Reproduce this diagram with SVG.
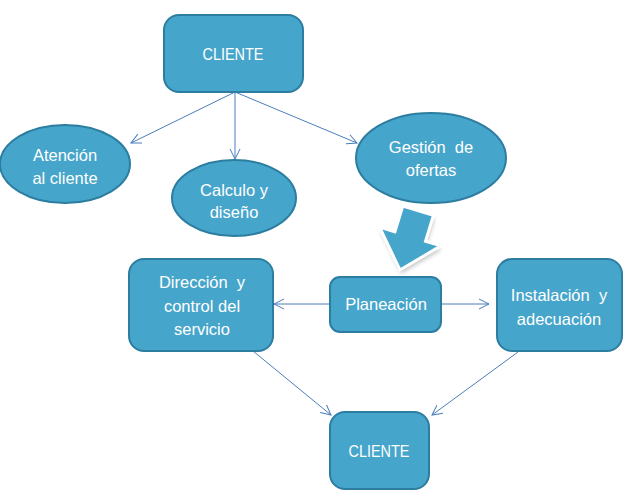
<svg xmlns="http://www.w3.org/2000/svg" width="626" height="496" viewBox="0 0 626 496">
<style>
.n{fill:#46A5CB;stroke:#2C7DA0;stroke-width:2}
.t{font-family:"Liberation Sans",Arial,sans-serif;font-size:16.5px;fill:#FFFFFF;text-anchor:middle;white-space:pre}
.k{font-size:17px}
.c{stroke:#4A7EBB;stroke-width:1;fill:none;marker-end:url(#ah)}
</style>
<defs>
<marker id="ah" markerWidth="12" markerHeight="12" refX="10" refY="5" orient="auto" markerUnits="userSpaceOnUse" viewBox="0 0 12 10">
<polyline points="0,0 10,5 0,10" fill="none" stroke="#4A7EBB" stroke-width="1"/>
</marker>
<filter id="sh" x="-30%" y="-30%" width="160%" height="160%">
<feGaussianBlur stdDeviation="2"/>
</filter>
</defs>
<rect width="626" height="496" fill="#FFFFFF"/>
<g id="connectors">
<line class="c" x1="235" y1="92" x2="131" y2="143"/>
<line class="c" x1="235" y1="92" x2="235" y2="159"/>
<line class="c" x1="235" y1="92" x2="357" y2="143"/>
<line class="c" x1="330" y1="304" x2="274" y2="304"/>
<line class="c" x1="441" y1="304" x2="489" y2="304"/>
<line class="c" x1="253" y1="351" x2="331" y2="415"/>
<line class="c" x1="518" y1="352" x2="432" y2="415"/>
</g>
<g id="cliente-top">
<rect class="n" x="164" y="15" width="139" height="77" rx="15"/>
<text class="t k" x="233" y="60" textLength="61" lengthAdjust="spacingAndGlyphs">CLIENTE</text>
</g>
<g id="atencion">
<ellipse class="n" cx="65" cy="164" rx="65" ry="39"/>
<text class="t" x="65" y="161">Atención</text>
<text class="t" x="65" y="184">al cliente</text>
</g>
<g id="calculo">
<ellipse class="n" cx="234" cy="198" rx="62" ry="38"/>
<text class="t" x="234" y="196">Calculo y</text>
<text class="t" x="234" y="218">diseño</text>
</g>
<g id="gestion">
<ellipse class="n" cx="431" cy="158" rx="75" ry="45"/>
<text class="t" x="431" y="153">Gestión  de</text>
<text class="t" x="431" y="176">ofertas</text>
</g>
<g id="big-arrow" transform="translate(418.1,210.7) rotate(17)">
<polygon points="-16,0 16,0 16,27 32,27 0,62 -32,27 -16,27" fill="#888888" opacity="0.5" transform="translate(2,3)" filter="url(#sh)"/>
<polygon points="-16,0 16,0 16,27 32,27 0,62 -32,27 -16,27" fill="#46A5CB" stroke="#FFFFFF" stroke-width="3" stroke-linejoin="miter"/>
</g>
<g id="direccion">
<rect class="n" x="129" y="259" width="144" height="92" rx="15"/>
<text class="t" x="202" y="288">Dirección  y</text>
<text class="t" x="202" y="312">control del</text>
<text class="t" x="202" y="335">servicio</text>
</g>
<g id="planeacion">
<rect class="n" x="330" y="277" width="111" height="55" rx="10"/>
<text class="t" x="386" y="310">Planeación</text>
</g>
<g id="instalacion">
<rect class="n" x="497" y="259" width="125" height="92" rx="15"/>
<text class="t" x="559" y="301">Instalación  y</text>
<text class="t" x="559" y="325">adecuación</text>
</g>
<g id="cliente-bottom">
<rect class="n" x="330" y="412" width="99" height="77" rx="15"/>
<text class="t k" x="379" y="457" textLength="61" lengthAdjust="spacingAndGlyphs">CLIENTE</text>
</g>
</svg>
